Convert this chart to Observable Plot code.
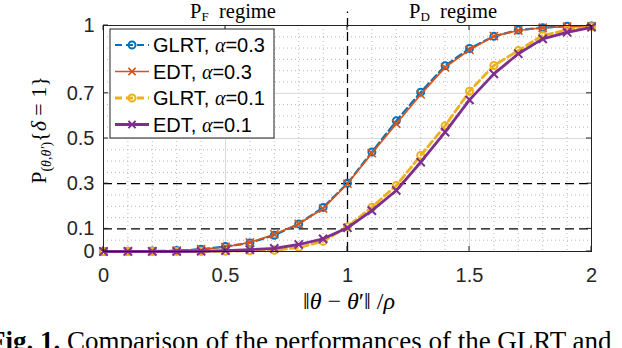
<!DOCTYPE html>
<html><head><meta charset="utf-8">
<script src="https://cdn.jsdelivr.net/npm/d3@7"></script>
<script src="https://cdn.jsdelivr.net/npm/@observablehq/plot@0.6"></script>
<style>
body{margin:0;background:#fff;width:622px;height:348px;overflow:hidden;position:relative}
#chart{position:absolute;left:0;top:0}
#caption{position:absolute;left:-11px;top:328px;font:27px/27px "Liberation Serif",serif;white-space:nowrap;color:#000}
</style></head><body>
<div id="chart"></div>
<div id="caption"><b>Fig. 1.</b> Comparison of the performances of the GLRT and</div>
<script>
// ---- data ----
const xVals  = [0,0.1,0.2,0.3,0.4,0.5,0.6,0.7,0.8,0.9,1.0,1.1,1.2,1.3,1.4,1.5,1.6,1.7,1.8,1.9,2.0];
const glrt03 = [0.000,0.001,0.002,0.004,0.010,0.022,0.038,0.072,0.122,0.195,0.302,0.440,0.578,0.705,0.822,0.898,0.952,0.980,0.990,0.997,0.998];
const edt03  = [0.000,0.001,0.002,0.004,0.010,0.020,0.040,0.076,0.122,0.190,0.300,0.435,0.565,0.695,0.815,0.892,0.953,0.978,0.990,0.995,0.997];
const glrt01 = [0.000,0.000,0.000,0.000,0.000,0.001,0.003,0.005,0.018,0.045,0.110,0.196,0.292,0.425,0.556,0.709,0.823,0.889,0.956,0.980,0.995];
const edt01  = [0.000,0.000,0.000,0.000,0.001,0.004,0.008,0.014,0.031,0.056,0.105,0.181,0.270,0.395,0.528,0.671,0.786,0.875,0.941,0.970,0.992];
const seriesValues = [glrt03, edt03, glrt01, edt01];
const seriesMethods = ["GLRT","EDT","GLRT","EDT"];
const seriesAlpha = ["0.3","0.3","0.1","0.1"];
const seriesColors = ["#0072BD","#D95319","#EDB120","#7E2F8E"];
const seriesStyles = [
  {dash:"7,4", width:2.2, symbol:"circle", r:3.5, sw:2},
  {dash:null,  width:1.7, symbol:"times",  r:3.8, sw:1.6},
  {dash:"7,4", width:2.8, symbol:"circle", r:3.5, sw:2},
  {dash:null,  width:2.8, symbol:"times",  r:3.8, sw:2}
];
const xTicks = [0,0.5,1,1.5,2];
const yTicks = [0,0.1,0.3,0.5,0.7,1];
const xMinor = [0.1,0.2,0.3,0.4,0.6,0.7,0.8,0.9,1.1,1.2,1.3,1.4,1.6,1.7,1.8,1.9];
const yMinor = [0.05,0.15,0.2,0.25,0.35,0.4,0.45,0.55,0.6,0.65,0.75,0.8,0.85,0.9,0.95];
const xMajorGrid = [0.5,1.5];
const yMajorGrid = [0.5,0.7];
const refY = [0.1,0.3];
const refX = [1];
const refXTop = 1.06;

// ---- build ----
const marks = [
  Plot.ruleX(xMinor, {stroke:"#b8b8b8", strokeDasharray:"1,3", strokeWidth:1}),
  Plot.ruleY(yMinor, {stroke:"#b8b8b8", strokeDasharray:"1,3", strokeWidth:1}),
  Plot.ruleX(xMajorGrid, {stroke:"#dadada", strokeWidth:1}),
  Plot.ruleY(yMajorGrid, {stroke:"#dadada", strokeWidth:1}),
  Plot.ruleY(refY, {stroke:"#000", strokeDasharray:"9,5", strokeWidth:1.3}),
  Plot.ruleX(refX, {y1:0, y2:refXTop, stroke:"#000", strokeDasharray:"9,5", strokeWidth:1.3})
];
seriesValues.forEach((vals, k) => {
  const rows = xVals.map((x,i) => ({x, y: vals[i]}));
  const st = seriesStyles[k];
  marks.push(Plot.line(rows, {x:"x", y:"y", stroke:seriesColors[k], strokeWidth:st.width, strokeDasharray:st.dash}));
  marks.push(Plot.dot(rows, {x:"x", y:"y", symbol:st.symbol, r:st.r, stroke:seriesColors[k], strokeWidth:st.sw, fill:"none"}));
});
marks.push(Plot.frame({stroke:"#222", strokeWidth:1}));
marks.push(Plot.axisX({ticks:xTicks, tickSize:0, tickPadding:16, tickFormat:d => String(d), label:null}));
marks.push(Plot.axisY({ticks:yTicks, tickSize:0, tickPadding:9, tickFormat:d => String(d), label:null}));

const plot = Plot.plot({
  width:622, height:320,
  marginLeft:103, marginRight:31, marginTop:25, marginBottom:69,
  x:{domain:[0,2], label:null},
  y:{domain:[0,1], label:null},
  style:{fontFamily:"'Liberation Sans', Arial, sans-serif", fontSize:"20px", color:"#262626", background:"#fff", overflow:"visible"},
  marks
});
document.getElementById("chart").appendChild(plot);

// ---- decorations through the plot's scales ----
const sx = v => plot.scale("x").apply(v);
const sy = v => plot.scale("y").apply(v);
const svg = d3.select(plot);
const g = svg.append("g");
const x0 = sx(0), x1 = sx(2), y0 = sy(0), y1 = sy(1);
const tl = 5;
xTicks.forEach(v => {
  g.append("line").attr("x1",sx(v)).attr("x2",sx(v)).attr("y1",y0).attr("y2",y0-tl).attr("stroke","#222");
  g.append("line").attr("x1",sx(v)).attr("x2",sx(v)).attr("y1",y1).attr("y2",y1+tl).attr("stroke","#222");
});
yTicks.forEach(v => {
  g.append("line").attr("x1",x0).attr("x2",x0+tl).attr("y1",sy(v)).attr("y2",sy(v)).attr("stroke","#222");
  g.append("line").attr("x1",x1).attr("x2",x1-tl).attr("y1",sy(v)).attr("y2",sy(v)).attr("stroke","#222");
});

const serif = "'Liberation Serif','Times New Roman',serif";
// regime titles
function regime(cx, sub) {
  const t = g.append("text").attr("x", cx).attr("y", 18).attr("text-anchor","middle")
    .attr("font-family", serif).attr("font-size", 20.5).attr("fill","#000").style("white-space","pre");
  t.append("tspan").text("P");
  t.append("tspan").attr("font-size",13).attr("dy",3).text(sub);
  t.append("tspan").attr("dy",-3).text("  regime");
}
regime((sx(0)+sx(1))/2 + 8, "F");
regime((sx(1)+sx(2))/2 - 16, "D");

// y label
{
  const t = g.append("text").attr("transform",`translate(46,${(y0+y1)/2 - 8}) rotate(-90)`)
    .attr("text-anchor","middle").attr("font-family", serif).attr("font-size", 22).attr("fill","#000").style("white-space","pre");
  t.append("tspan").text("P");
  const s = t.append("tspan").attr("font-size",14).attr("dy",5);
  s.append("tspan").text("(");
  s.append("tspan").attr("font-style","italic").text("θ");
  s.append("tspan").text(",");
  s.append("tspan").attr("font-style","italic").text("θ′");
  s.append("tspan").text(")");
  t.append("tspan").attr("dy",-5).text("{");
  t.append("tspan").attr("font-style","italic").text("δ");
  t.append("tspan").text(" = 1}");
}
// x label
{
  const t = g.append("text").attr("x", sx(1) + 2).attr("y", 309).attr("text-anchor","middle")
    .attr("font-family", serif).attr("font-size", 24).attr("fill","#000").style("white-space","pre");
  t.append("tspan").text("‖");
  t.append("tspan").attr("font-style","italic").text("θ");
  t.append("tspan").text(" − ");
  t.append("tspan").attr("font-style","italic").text("θ");
  t.append("tspan").text("′‖ /");
  t.append("tspan").attr("font-style","italic").text("ρ");
}
// legend
{
  const lx = 110, ly = 29, lw = 164, lh = 109;
  const lg = g.append("g");
  lg.append("rect").attr("x",lx).attr("y",ly).attr("width",lw).attr("height",lh).attr("fill","#fff").attr("stroke","#222");
  seriesValues.forEach((_, k) => {
    const cy = ly + 16 + k*26.5;
    const st = seriesStyles[k];
    lg.append("line").attr("x1",lx+5).attr("x2",lx+39).attr("y1",cy).attr("y2",cy)
      .attr("stroke",seriesColors[k]).attr("stroke-width",st.width).attr("stroke-dasharray",st.dash);
    const mx = lx+22;
    if (st.symbol === "circle") {
      lg.append("circle").attr("cx",mx).attr("cy",cy).attr("r",st.r).attr("fill","none").attr("stroke",seriesColors[k]).attr("stroke-width",st.sw);
    } else {
      const a = 3.6;
      lg.append("path").attr("d",`M${mx-a},${cy-a}L${mx+a},${cy+a}M${mx-a},${cy+a}L${mx+a},${cy-a}`)
        .attr("stroke",seriesColors[k]).attr("stroke-width",st.sw);
    }
    const t = lg.append("text").attr("x",lx+43).attr("y",cy).attr("dy","0.36em").attr("text-anchor","start")
      .attr("font-family","'Liberation Sans',Arial,sans-serif").attr("font-size",20).attr("fill","#000").style("white-space","pre");
    t.append("tspan").text(seriesMethods[k] + ", ");
    t.append("tspan").attr("font-family",serif).attr("font-style","italic").attr("font-size",20).text("α");
    t.append("tspan").text("=" + seriesAlpha[k]);
  });
}
</script>
</body></html>
